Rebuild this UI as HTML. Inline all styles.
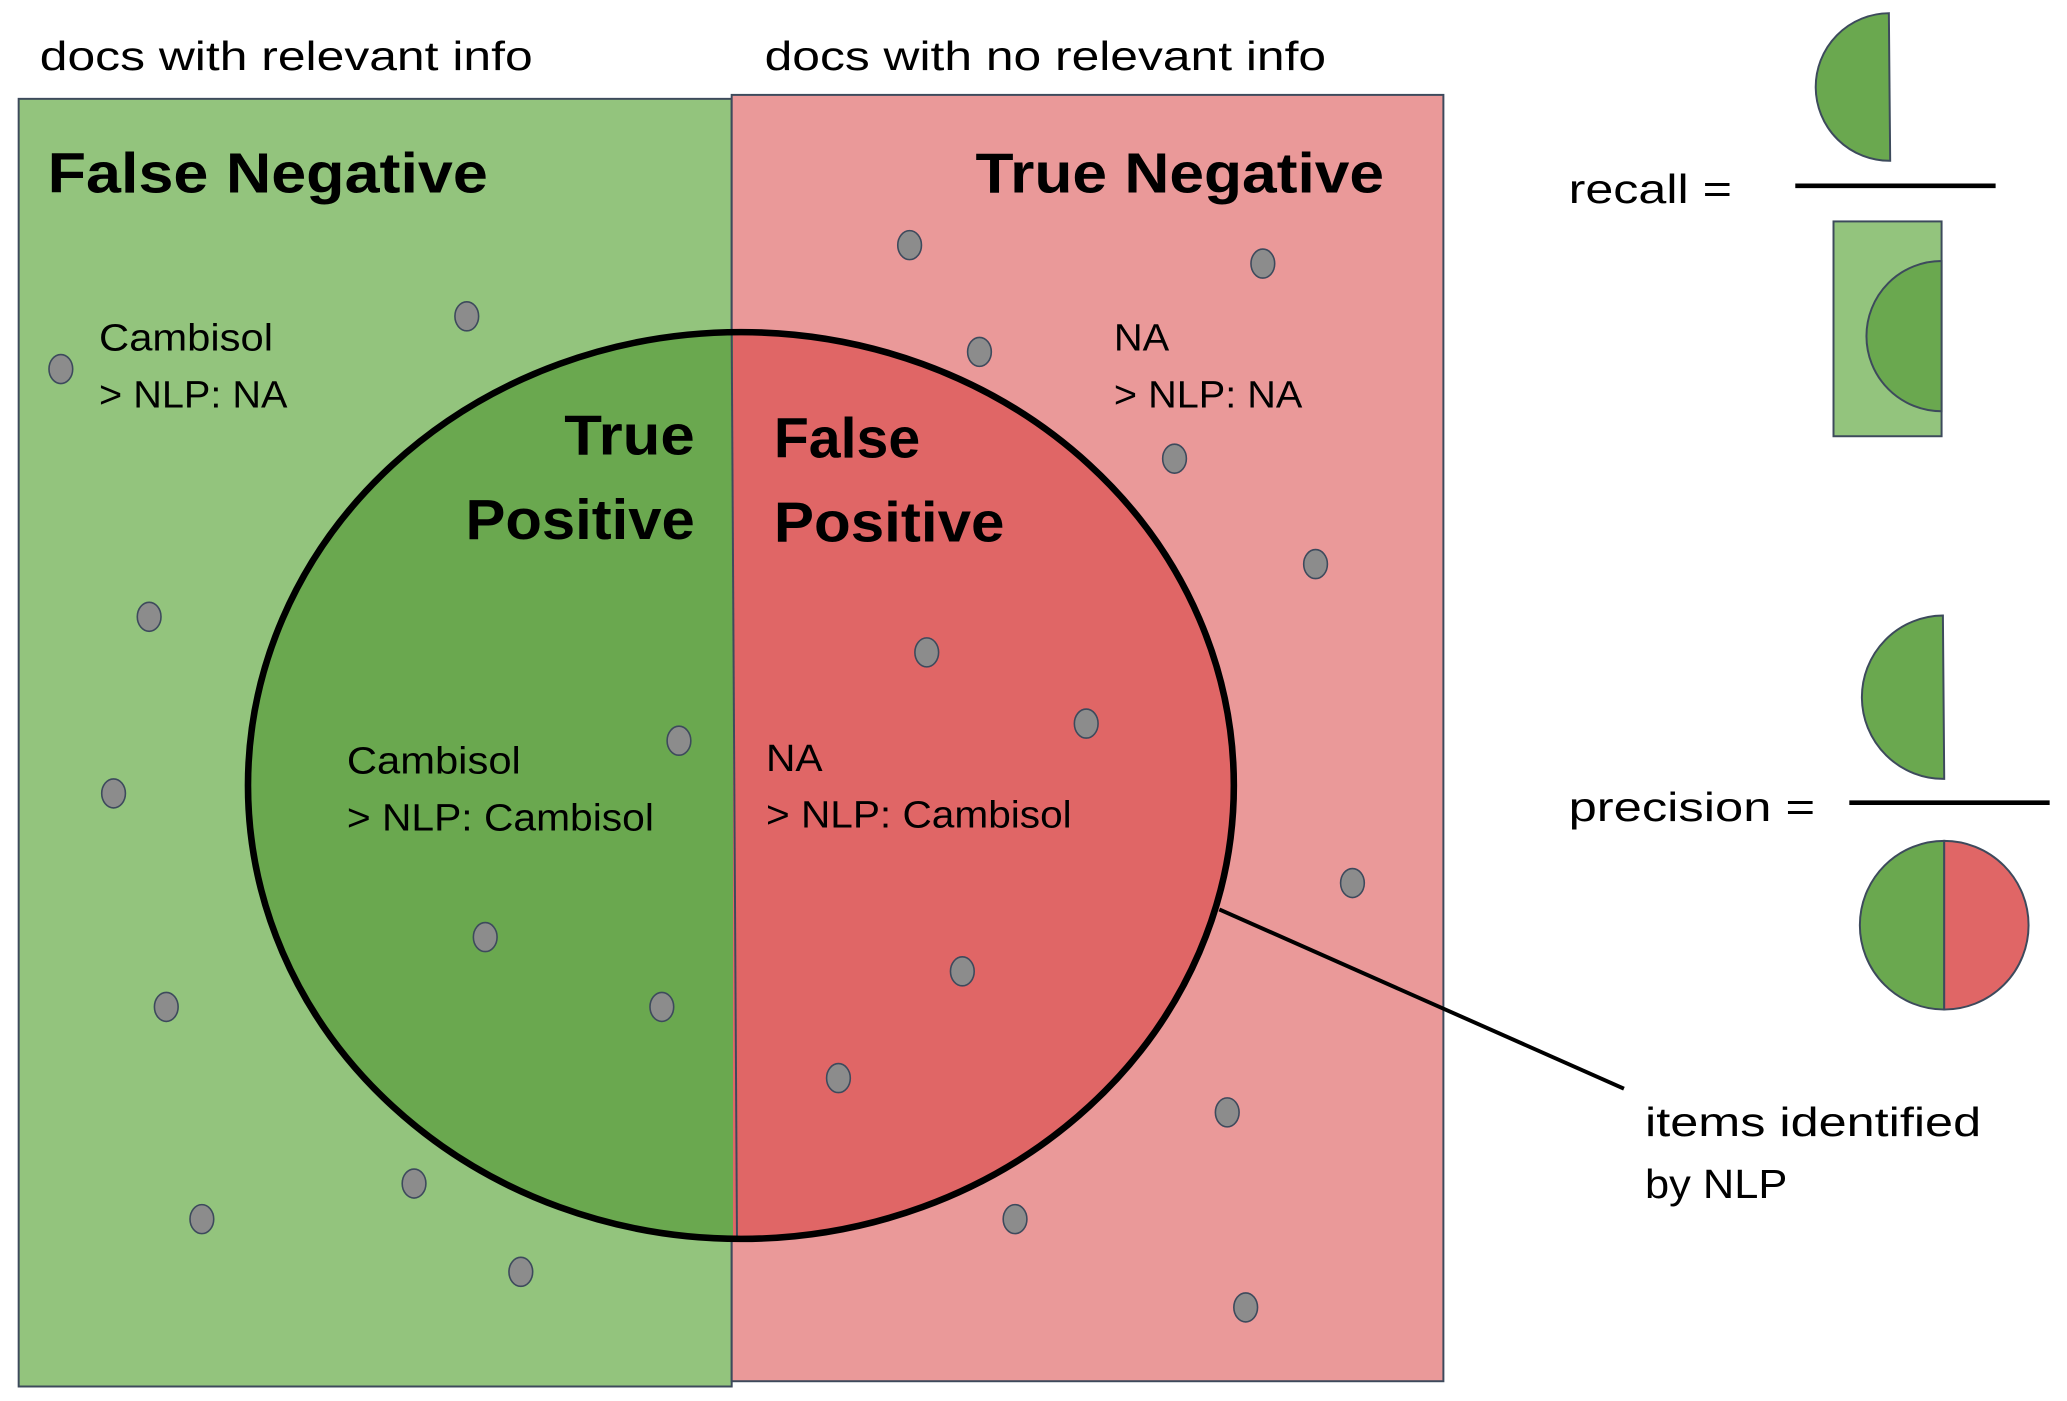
<!DOCTYPE html>
<html><head><meta charset="utf-8"><style>
html,body{margin:0;padding:0;background:#fff;}
svg{display:block;}
text{font-family:"Liberation Sans",sans-serif;fill:#000;}
.b{font-weight:bold;font-size:43px;}
.n{font-size:29px;}
.t{font-size:31px;}
</style></head><body>
<svg width="2067" height="1401" viewBox="0 0 1568 1063" xmlns="http://www.w3.org/2000/svg">
<rect x="14" y="75" width="541" height="977" fill="#93c47d" stroke="#3d4a5c" stroke-width="1.5"/>
<rect x="555" y="72" width="540" height="976" fill="#ea9999" stroke="#3d4a5c" stroke-width="1.5"/>
<clipPath id="L"><rect x="0" y="0" width="556" height="1063"/></clipPath>
<clipPath id="R"><rect x="556" y="0" width="1000" height="1063"/></clipPath>
<ellipse cx="562" cy="596" rx="374" ry="344" fill="#6aa84f" clip-path="url(#L)"/>
<ellipse cx="562" cy="596" rx="374" ry="344" fill="#e06666" clip-path="url(#R)"/>
<line x1="555" y1="254" x2="559" y2="938" stroke="#3d4a5c" stroke-width="1.5"/>
<ellipse cx="562" cy="596" rx="374" ry="344" fill="none" stroke="#000" stroke-width="5"/>
<line x1="925" y1="690" x2="1232" y2="826" stroke="#000" stroke-width="3"/>
<g fill="#8c8c8c" stroke="#3d4a5c" stroke-width="1.2">
<ellipse cx="690" cy="186" rx="9" ry="11"/><ellipse cx="958" cy="200" rx="9" ry="11"/>
<ellipse cx="354" cy="240" rx="9" ry="11"/><ellipse cx="46" cy="280" rx="9" ry="11"/>
<ellipse cx="743" cy="267" rx="9" ry="11"/><ellipse cx="891" cy="348" rx="9" ry="11"/>
<ellipse cx="998" cy="428" rx="9" ry="11"/><ellipse cx="113" cy="468" rx="9" ry="11"/>
<ellipse cx="703" cy="495" rx="9" ry="11"/><ellipse cx="824" cy="549" rx="9" ry="11"/>
<ellipse cx="515" cy="562" rx="9" ry="11"/><ellipse cx="86" cy="602" rx="9" ry="11"/>
<ellipse cx="1026" cy="670" rx="9" ry="11"/><ellipse cx="368" cy="711" rx="9" ry="11"/>
<ellipse cx="730" cy="737" rx="9" ry="11"/><ellipse cx="126" cy="764" rx="9" ry="11"/>
<ellipse cx="502" cy="764" rx="9" ry="11"/><ellipse cx="636" cy="818" rx="9" ry="11"/>
<ellipse cx="931" cy="844" rx="9" ry="11"/><ellipse cx="314" cy="898" rx="9" ry="11"/>
<ellipse cx="153" cy="925" rx="9" ry="11"/><ellipse cx="770" cy="925" rx="9" ry="11"/>
<ellipse cx="395" cy="965" rx="9" ry="11"/><ellipse cx="945" cy="992" rx="9" ry="11"/>
</g>
<text class="t" x="30" y="53" textLength="374" lengthAdjust="spacingAndGlyphs">docs with relevant info</text>
<text class="t" x="580" y="53" textLength="426" lengthAdjust="spacingAndGlyphs">docs with no relevant info</text>
<text class="b" x="36" y="146" textLength="334" lengthAdjust="spacingAndGlyphs">False  Negative</text>
<text class="b" x="740" y="146" textLength="310" lengthAdjust="spacingAndGlyphs">True Negative</text>
<text class="b" x="428" y="345" textLength="99" lengthAdjust="spacingAndGlyphs">True</text>
<text class="b" x="353" y="409" textLength="174" lengthAdjust="spacingAndGlyphs">Positive</text>
<text class="b" x="587" y="347" textLength="111" lengthAdjust="spacingAndGlyphs">False</text>
<text class="b" x="587" y="411" textLength="175" lengthAdjust="spacingAndGlyphs">Positive</text>
<text class="n" x="75" y="266" textLength="132" lengthAdjust="spacingAndGlyphs">Cambisol</text>
<text class="n" x="75" y="309" textLength="143" lengthAdjust="spacingAndGlyphs">&gt; NLP: NA</text>
<text class="n" x="845" y="266" textLength="42" lengthAdjust="spacingAndGlyphs">NA</text>
<text class="n" x="845" y="309" textLength="143" lengthAdjust="spacingAndGlyphs">&gt; NLP: NA</text>
<text class="n" x="263" y="587" textLength="132" lengthAdjust="spacingAndGlyphs">Cambisol</text>
<text class="n" x="263" y="630" textLength="233" lengthAdjust="spacingAndGlyphs">&gt; NLP: Cambisol</text>
<text class="n" x="581" y="585" textLength="43" lengthAdjust="spacingAndGlyphs">NA</text>
<text class="n" x="581" y="628" textLength="232" lengthAdjust="spacingAndGlyphs">&gt; NLP: Cambisol</text>
<text class="t" x="1248" y="862" textLength="255" lengthAdjust="spacingAndGlyphs">items identified</text>
<text class="t" x="1248" y="909" textLength="108" lengthAdjust="spacingAndGlyphs">by NLP</text>
<text class="t" x="1190" y="154" textLength="124" lengthAdjust="spacingAndGlyphs">recall =</text>
<text class="t" x="1190" y="623" textLength="187" lengthAdjust="spacingAndGlyphs">precision =</text>
<g stroke="#3d4a5c" stroke-width="1.5">
<path d="M1433,10 A56,56 0 0 0 1434,122 Z" fill="#6aa84f"/>
<rect x="1391" y="168" width="82" height="163" fill="#93c47d"/>
<path d="M1473,198 A57,57 0 0 0 1473,312 Z" fill="#6aa84f"/>
<path d="M1474,467 A62,62 0 0 0 1475,591 Z" fill="#6aa84f"/>
<path d="M1475,638 A64,64 0 0 0 1475,766 Z" fill="#6aa84f"/>
<path d="M1475,638 A64,64 0 0 1 1475,766 Z" fill="#e06666"/>
</g>
<line x1="1362" y1="141" x2="1514" y2="141" stroke="#000" stroke-width="3.5"/>
<line x1="1403" y1="609" x2="1555" y2="609" stroke="#000" stroke-width="3.5"/>
</svg>
</body></html>
